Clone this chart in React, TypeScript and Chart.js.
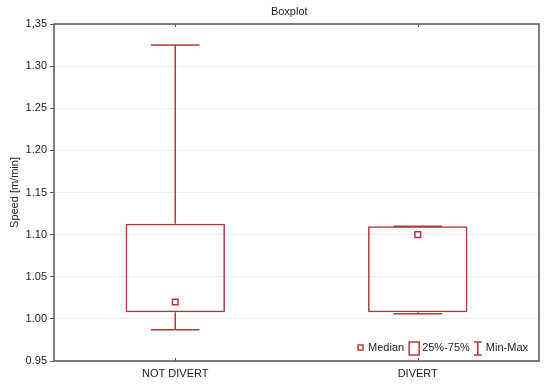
import React, { useEffect, useRef } from "react";
import { Chart, registerables } from "chart.js";

Chart.register(...registerables);

const chartTitle = "Boxplot";
const categories = ["NOT DIVERT", "DIVERT"];
const q1 = [1.008, 1.008];
const q3 = [1.113, 1.11];
const medians = [1.02, 1.1];
const mins = [0.987, 1.006];
const maxs = [1.325, 1.11];
const yTickLabels = ["0.95", "1.00", "1.05", "1.10", "1.15", "1.20", "1.25", "1.30", "1,35"];

const RED = "#b03a3a";
const FRAME = "#555555";
const TEXT = "#222222";
const FONT = "'Liberation Sans', Arial, sans-serif";

const boxPlugin = {
  id: "boxExtras",
  afterDatasetsDraw(chart: any) {
    const { ctx, chartArea, scales } = chart;
    const x = scales.x;
    const y = scales.y;
    ctx.save();
    // title
    ctx.font = `11px ${FONT}`;
    ctx.fillStyle = TEXT;
    ctx.textAlign = "center";
    ctx.textBaseline = "middle";
    ctx.fillText(chartTitle, chartArea.left + (chartArea.right - chartArea.left) * 0.485, 12);
    ctx.textAlign = "left";
    // whiskers
    ctx.strokeStyle = RED;
    ctx.lineWidth = 1.5;
    categories.forEach((_, i) => {
      const cx = x.getPixelForValue(i);
      const capHalf = (x.getPixelForValue(1) - x.getPixelForValue(0)) * 0.1;
      const pMax = y.getPixelForValue(maxs[i]);
      const pMin = y.getPixelForValue(mins[i]);
      const pQ3 = y.getPixelForValue(q3[i]);
      const pQ1 = y.getPixelForValue(q1[i]);
      ctx.beginPath();
      ctx.moveTo(cx, pQ3);
      ctx.lineTo(cx, pMax);
      ctx.moveTo(cx - capHalf, pMax);
      ctx.lineTo(cx + capHalf, pMax);
      ctx.moveTo(cx, pQ1);
      ctx.lineTo(cx, pMin);
      ctx.moveTo(cx - capHalf, pMin);
      ctx.lineTo(cx + capHalf, pMin);
      ctx.stroke();
    });
    // frame
    ctx.strokeStyle = FRAME;
    ctx.lineWidth = 1.5;
    ctx.strokeRect(chartArea.left, chartArea.top, chartArea.right - chartArea.left, chartArea.bottom - chartArea.top);
    // category ticks inward
    ctx.lineWidth = 1;
    categories.forEach((_, i) => {
      const cx = Math.round(x.getPixelForValue(i)) + 0.5;
      ctx.beginPath();
      ctx.moveTo(cx, chartArea.top);
      ctx.lineTo(cx, chartArea.top + 3);
      ctx.moveTo(cx, chartArea.bottom);
      ctx.lineTo(cx, chartArea.bottom - 3);
      ctx.stroke();
    });
    // legend
    ctx.font = `11px ${FONT}`;
    ctx.textBaseline = "middle";
    ctx.fillStyle = TEXT;
    const ly = chartArea.bottom - 13;
    const items = ["Median", "25%-75%", "Min-Max"];
    const w = items.map((t) => ctx.measureText(t).width);
    let px = chartArea.right - 11 - w[2];
    const xMinMax = px;
    px -= 12;
    const iconI = px;
    px -= 4 + w[1];
    const x2575 = px;
    px -= 13;
    const iconBox = px;
    px -= 5 + w[0];
    const xMedian = px;
    px -= 10;
    const iconMed = px;
    ctx.fillText(items[0], xMedian, ly);
    ctx.fillText(items[1], x2575, ly);
    ctx.fillText(items[2], xMinMax, ly);
    ctx.strokeStyle = RED;
    ctx.lineWidth = 1.5;
    ctx.fillStyle = "#fff";
    ctx.fillRect(iconMed, ly - 3, 5, 5);
    ctx.strokeRect(iconMed, ly - 3, 5, 5);
    ctx.strokeRect(iconBox, ly - 6, 10, 13);
    ctx.beginPath();
    ctx.moveTo(iconI, ly - 6);
    ctx.lineTo(iconI + 8, ly - 6);
    ctx.moveTo(iconI + 4, ly - 6);
    ctx.lineTo(iconI + 4, ly + 7);
    ctx.moveTo(iconI, ly + 7);
    ctx.lineTo(iconI + 8, ly + 7);
    ctx.stroke();
    ctx.restore();
  },
};

export default function App() {
  const ref = useRef<HTMLCanvasElement>(null);
  useEffect(() => {
    document.body.style.margin = "0";
    const chart = new Chart(ref.current as HTMLCanvasElement, {
      type: "bar",
      data: {
        labels: categories,
        datasets: [
          {
            type: "bar",
            data: categories.map((_, i) => [q1[i], q3[i]]) as any,
            backgroundColor: "rgba(255,255,255,0)",
            borderColor: RED,
            borderWidth: 1.5,
            borderSkipped: false,
            categoryPercentage: 1,
            barPercentage: 0.41,
          },
          {
            type: "line",
            data: medians,
            showLine: false,
            pointStyle: "rect",
            pointRadius: 4,
            pointBorderWidth: 1.5,
            pointBorderColor: RED,
            pointBackgroundColor: "#fff",
          } as any,
        ],
      },
      options: {
        animation: false,
        responsive: false,
        layout: { padding: { left: 0, right: 11, top: 24, bottom: 0 } },
        plugins: {
          legend: { display: false },
          tooltip: { enabled: false },
          title: { display: false },
        },
        scales: {
          x: {
            offset: true,
            grid: { display: false, offset: false, drawTicks: false },
            border: { display: false },
            ticks: { color: TEXT, font: { family: FONT, size: 11 }, padding: 6 },
            afterFit: (s: any) => {
              s.height = 26;
            },
          },
          y: {
            min: 0.95,
            max: 1.35,
            ticks: {
              stepSize: 0.05,
              color: TEXT,
              font: { family: FONT, size: 11 },
              padding: 3,
              callback: (_v: any, i: number) => yTickLabels[i],
            },
            grid: { color: "#eeeeee", tickColor: FRAME, tickLength: 4 },
            border: { display: false },
            title: {
              display: true,
              text: "Speed [m/min]",
              color: TEXT,
              font: { family: FONT, size: 11 },
              padding: { top: 8, bottom: 0 },
            },
            afterFit: (s: any) => {
              s.width = 54;
            },
          },
        },
      },
      plugins: [boxPlugin],
    } as any);
    return () => chart.destroy();
  }, []);
  return (
    <div style={{ width: 550, height: 387 }}>
      <canvas ref={ref} width={550} height={387} />
    </div>
  );
}
